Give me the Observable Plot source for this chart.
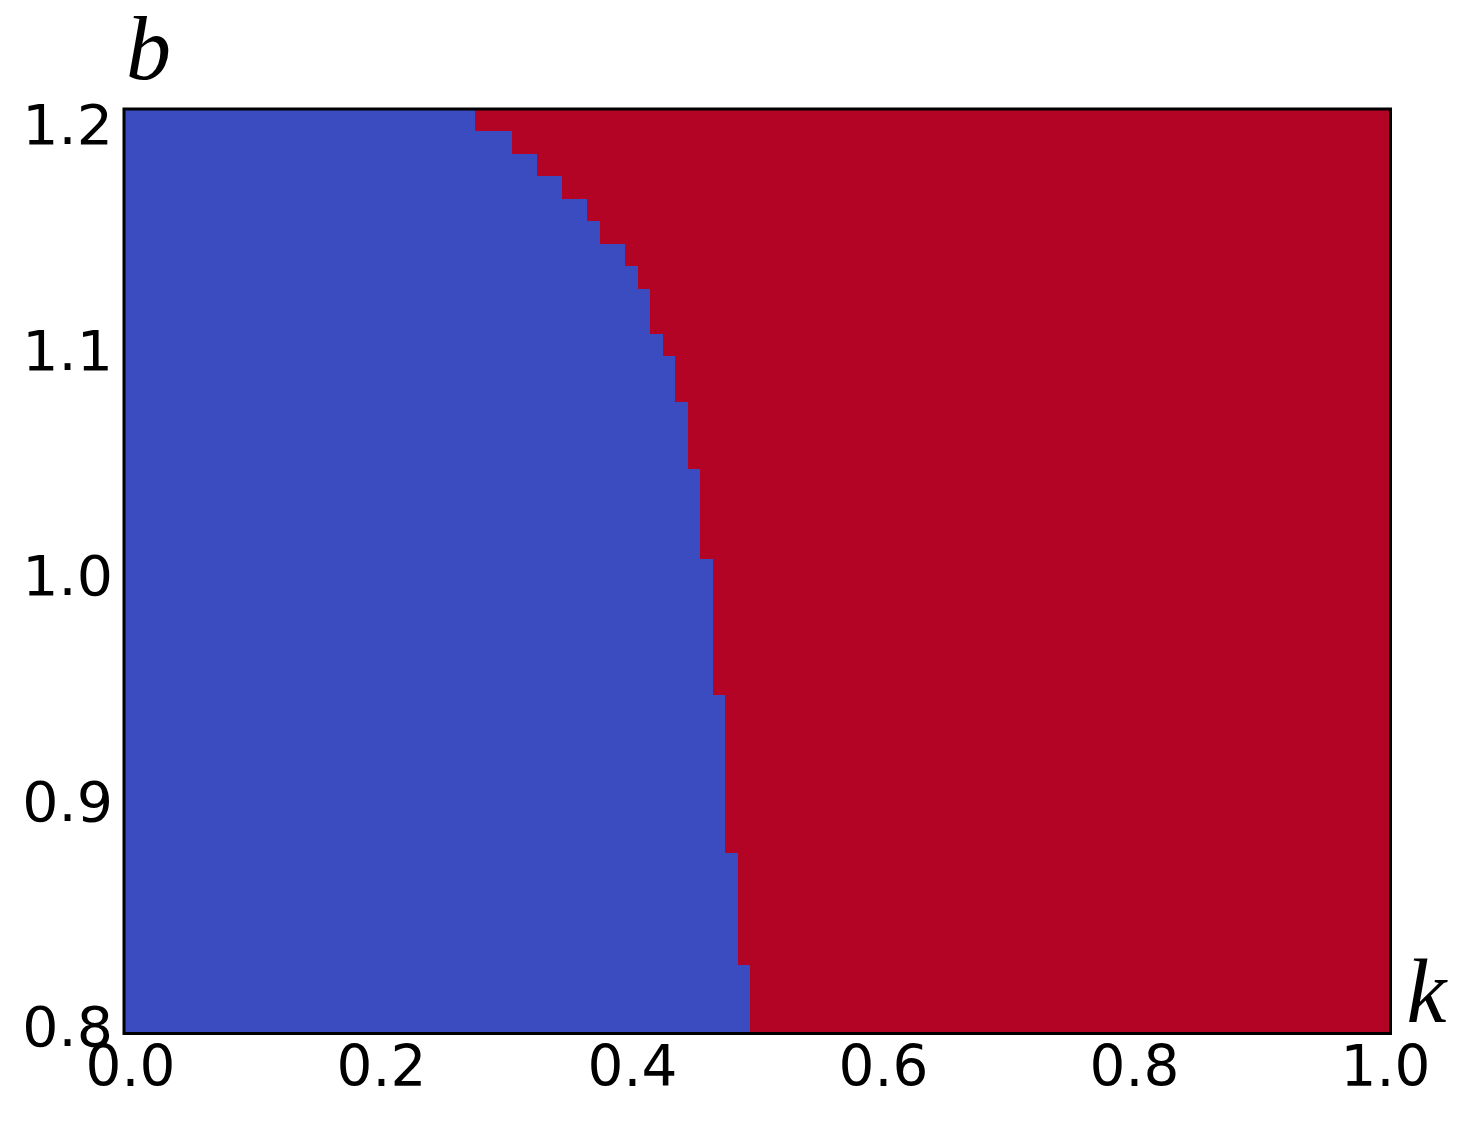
<!DOCTYPE html>
<html>
<head>
<meta charset="utf-8">
<script src="https://cdn.jsdelivr.net/npm/d3@7"></script>
<script src="https://cdn.jsdelivr.net/npm/@observablehq/plot@0.6"></script>
<style>
  html, body { margin: 0; padding: 0; background: #fff; }
  #chart svg { display: block; }
</style>
</head>
<body>
<div id="chart"></div>
<script>
// Upper edge (b) of each run of grid rows that share the same phase boundary
const bTop = [1.2, 1.1902, 1.1805, 1.1707, 1.161, 1.1512, 1.1415, 1.1317, 1.122, 1.1024, 1.0927, 1.0732, 1.0439, 1.0049, 0.9463, 0.878, 0.8293];
// Lower edge (b) of each run
const bBottom = [1.1902, 1.1805, 1.1707, 1.161, 1.1512, 1.1415, 1.1317, 1.122, 1.1024, 1.0927, 1.0732, 1.0439, 1.0049, 0.9463, 0.878, 0.8293, 0.8];
// k value where the blue phase gives way to the red phase in that run
const kBoundary = [0.2772, 0.3069, 0.3267, 0.3465, 0.3663, 0.3762, 0.396, 0.4059, 0.4158, 0.4257, 0.4356, 0.4455, 0.4554, 0.4653, 0.4752, 0.4851, 0.495];

const xTicks = [0, 0.2, 0.4, 0.6, 0.8, 1.0];
const yTicks = [0.8, 0.9, 1.0, 1.1, 1.2];
const kMin = 0, kMax = 1, bMin = 0.8, bMax = 1.2;

const rows = bTop.map((t, i) => ({top: t, bottom: bBottom[i], k: kBoundary[i]}));

const BLUE = "#3b4cc0";
const RED = "#b40426";
const tickFont = "DejaVu Sans, sans-serif";
const labelFont = "Liberation Serif, DejaVu Serif, serif";

const chart = Plot.plot({
  width: 1466,
  height: 1142,
  marginLeft: 123.5,
  marginRight: 76,
  marginTop: 108.5,
  marginBottom: 109,
  style: {fontFamily: tickFont, background: "#fff", color: "#000"},
  x: {domain: [kMin, kMax]},
  y: {domain: [bMin, bMax]},
  marks: [
    Plot.rect(rows, {x1: kMin, x2: "k", y1: "bottom", y2: "top", fill: BLUE, shapeRendering: "crispEdges"}),
    Plot.rect(rows, {x1: "k", x2: kMax, y1: "bottom", y2: "top", fill: RED, shapeRendering: "crispEdges"}),
    Plot.frame({stroke: "#000", strokeWidth: 3}),
    Plot.axisX({ticks: xTicks, tickFormat: d3.format(".1f"), tickSize: 0, tickPadding: 12, fontSize: 57, label: null}),
    Plot.axisY({ticks: yTicks, tickFormat: d3.format(".1f"), tickSize: 0, tickPadding: 11, fontSize: 57, label: null}),
    Plot.text(["b"], {frameAnchor: "top-left", text: d => d, textAnchor: "start", lineAnchor: "bottom", dx: 2, dy: -30, fontSize: 90, fontStyle: "italic", fontFamily: labelFont}),
    Plot.text(["k"], {frameAnchor: "bottom-right", text: d => d, textAnchor: "start", lineAnchor: "bottom", dx: 16, dy: -12, fontSize: 90, fontStyle: "italic", fontFamily: labelFont})
  ]
});

// The reference's tick labels sit on a slightly tighter spacing than the frame's ticks
function squeeze(sel, t) {
  const g = chart.querySelector(sel);
  if (!g) return;
  const prev = g.getAttribute("transform") || "";
  g.setAttribute("transform", (prev + " " + t).trim());
}
squeeze('g[aria-label="y-axis tick label"]', "translate(0,20.2) scale(1,0.97525)");
squeeze('g[aria-label="x-axis tick label"]', "translate(7.6,0) scale(0.99092,1)");

document.getElementById("chart").appendChild(chart);
</script>
</body>
</html>
